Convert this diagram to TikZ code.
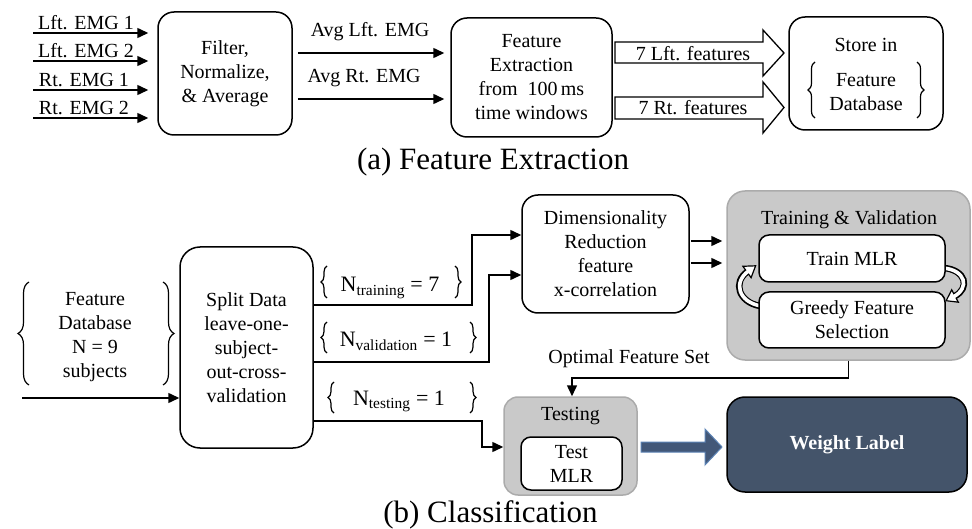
\documentclass[tikz,border=0pt]{standalone}
\usepackage{fontspec}
\setmainfont{Liberation Serif}
\usetikzlibrary{arrows.meta,decorations.pathreplacing,calc}
\definecolor{wlblue}{RGB}{68,84,106}
\definecolor{arrfill}{RGB}{67,88,120}
\definecolor{arrdraw}{RGB}{91,130,180}
\begin{document}
\begin{tikzpicture}[x=1pt,y=-1pt,
  every node/.style={font=\fontsize{20}{24}\selectfont, align=center, inner sep=0pt},
  box/.style={draw, line width=1.5pt, rounded corners=16pt},
  graybox/.style={draw=black!33, fill=black!21, line width=1.5pt, rounded corners=18pt},
  whitebox/.style={draw, fill=white, line width=1.5pt, rounded corners=10pt},
  arr/.style={line width=1.5pt, -{Triangle[length=11pt,width=10pt]}},
  brc/.style={decorate, decoration={brace, amplitude=7pt}, line width=1.2pt},
  lbl/.style={anchor=base},
  nlbl/.style={anchor=base, font=\fontsize{22}{26}\selectfont},
  captxt/.style={anchor=base, font=\fontsize{31}{36}\selectfont},
  blockarr/.style={draw, fill=white, line width=1.3pt, line join=miter},
]
\useasboundingbox (0,0) rectangle (972,529);

% ---------- (a) Feature Extraction ----------
\node[box, minimum width=134pt, minimum height=123pt] (filt) at (225,73.5) {Filter,\\Normalize,\\\& Average};
\node[box, minimum width=161pt, minimum height=119pt] (fe) at (531.5,77.5) {Feature\\Extraction\\from~~100\,ms\\time windows};
\node[box, minimum width=154pt, minimum height=113pt] (store) at (866,73.5) {};
\node (storein) at (866,45) {Store in};
\node (storefd) at (866,92) {Feature\\Database};
\draw[brc] (815,118) -- (815,62);
\draw[brc] (917,62) -- (917,118);

\coordinate (i1) at (33,33);
\coordinate (i2) at (33,61);
\coordinate (i3) at (33,90);
\coordinate (i4) at (33,118);
\foreach \c in {i1,i2,i3,i4} {\draw[arr, shorten >=9pt] (\c) -- (\c -| filt.west);}
\node[lbl] at (86,30) {Lft. EMG 1};
\node[lbl] at (86,58) {Lft. EMG 2};
\node[lbl] at (84,87) {Rt. EMG 1};
\node[lbl] at (84,115) {Rt. EMG 2};

\coordinate (a1) at (0,53);
\coordinate (a2) at (0,99);
\draw[arr, shorten <=5pt, shorten >=6pt] (filt.east |- a1) -- (fe.west |- a1);
\draw[arr, shorten <=5pt, shorten >=6pt] (filt.east |- a2) -- (fe.west |- a2);
\node[lbl] at (370,37) {Avg Lft. EMG};
\node[lbl] at (364,83) {Avg Rt. EMG};

\draw[blockarr] (615,42) -- (763,42) -- (763,30) -- (784,53) -- (763,76) -- (763,63) -- (615,63) -- cycle;
\draw[blockarr] (615,97) -- (763,97) -- (763,82) -- (784,107.5) -- (763,133) -- (763,119) -- (615,119) -- cycle;
\node[lbl] at (693,61) {7 Lft. features};
\node[lbl] at (693,115) {7 Rt. features};

\node[captxt] (capa) at (493,170) {(a) Feature Extraction};

% ---------- (b) Classification ----------
\node (fdb) at (95,337) {\fontsize{20}{23}\selectfont Feature\\Database\\N = 9\\subjects};
\draw[brc, decoration={amplitude=11pt}] (29,385) -- (29,282);
\draw[brc, decoration={amplitude=11pt}] (163,282) -- (163,385);

\node[box, rounded corners=20pt, minimum width=133pt, minimum height=201pt] (split) at (246.5,347.5) {Split Data\\leave-one-\\subject-\\out-cross-\\validation};
\coordinate (fin) at (22,398);
\draw[arr] (fin) -- (fin -| split.west);

\node[box, minimum width=167pt, minimum height=118pt] (dim) at (605.5,254) {Dimensionality\\Reduction\\feature\\x-correlation};

\coordinate (tr) at (472,305);
\coordinate (trtop) at (0,235);
\coordinate (va) at (489,362);
\coordinate (vatop) at (0,275);
\coordinate (te) at (482,421);
\coordinate (tebot) at (0,447);
\draw[arr] (tr -| split.east) -- (tr) |- (dim.west |- trtop);
\draw[arr] (va -| split.east) -- (va) |- (dim.west |- vatop);

\node[nlbl] at (390,292) {N\textsubscript{training} = 7};
\draw[brc, decoration={amplitude=6pt}] (327,298) -- (327,266);
\draw[brc, decoration={amplitude=6pt}] (455,266) -- (455,298);
\node[nlbl] at (396,347) {N\textsubscript{validation} = 1};
\draw[brc, decoration={amplitude=6pt}] (327,353) -- (327,322);
\draw[brc, decoration={amplitude=6pt}] (470,322) -- (470,353);
\node[nlbl] at (399,405) {N\textsubscript{testing} = 1};
\draw[brc, decoration={amplitude=6pt}] (334,413) -- (334,382);
\draw[brc, decoration={amplitude=6pt}] (470,382) -- (470,413);

% Training & Validation
\node[graybox, minimum width=243pt, minimum height=169pt] (tv) at (848.5,275.5) {};
\node (tvt) at (849,220) {Training \& Validation};

% curved loop arrows
\draw[line width=6.5pt] (760,306) .. controls (738,302) and (733,282) .. (747,272);
\draw[fill=white, line width=1.2pt, line join=miter] (751.1,277.7) -- (755.6,265.8) -- (742.9,266.3) -- cycle;
\draw[line width=3.6pt, white] (761,306) .. controls (738,302) and (733,282) .. (748.5,271);
\draw[line width=6.5pt] (944,268) .. controls (966,270) and (970,288) .. (955,296);
\draw[fill=white, line width=1.2pt, line join=miter] (958.3,302.2) -- (946.2,300.7) -- (951.7,289.8) -- cycle;
\draw[line width=3.6pt, white] (943,268) .. controls (966,270) and (970,288) .. (953.5,296.8);

\node[whitebox, minimum width=186pt, minimum height=47pt] (train) at (852,258.5) {Train MLR};
\node[whitebox, minimum width=186pt, minimum height=56pt] (greedy) at (852,320) {Greedy Feature\\Selection};

\coordinate (d1) at (0,241);
\coordinate (d2) at (0,263);
\draw[arr, shorten <=1pt, shorten >=4pt] (dim.east |- d1) -- (tv.west |- d1);
\draw[arr, shorten <=1pt, shorten >=4pt] (dim.east |- d2) -- (tv.west |- d2);

% Testing
\node[graybox, rounded corners=14pt, minimum width=133pt, minimum height=98pt] (test) at (570.5,446) {};
\node (testt) at (570.5,416) {Testing};
\node[whitebox, minimum width=101pt, minimum height=53pt] (tmlr) at (571.5,463.5) {Test\\MLR};

\draw[arr] (te -| split.east) -- (te) |- (test.west |- tebot);

\coordinate (opt) at (572,378);
\draw[arr] (tv.south) -- (tv.south |- opt) -- (opt) -- (opt |- test.north);
\node[lbl] at (629,363) {Optimal Feature Set};

% Weight label
\node[draw, line width=1.5pt, fill=wlblue, rounded corners=18pt, minimum width=240pt, minimum height=95pt, text=white, font=\fontsize{20}{24}\selectfont\bfseries] (wl) at (847,444.5) {Weight Label};
\draw[fill=arrfill, draw=arrdraw, line width=1pt, line join=miter] (641,442) -- (705,442) -- (705,429) -- (722,447) -- (705,465) -- (705,452) -- (641,452) -- cycle;

\node[captxt] (capb) at (490.5,522) {(b) Classification};
\end{tikzpicture}
\end{document}
